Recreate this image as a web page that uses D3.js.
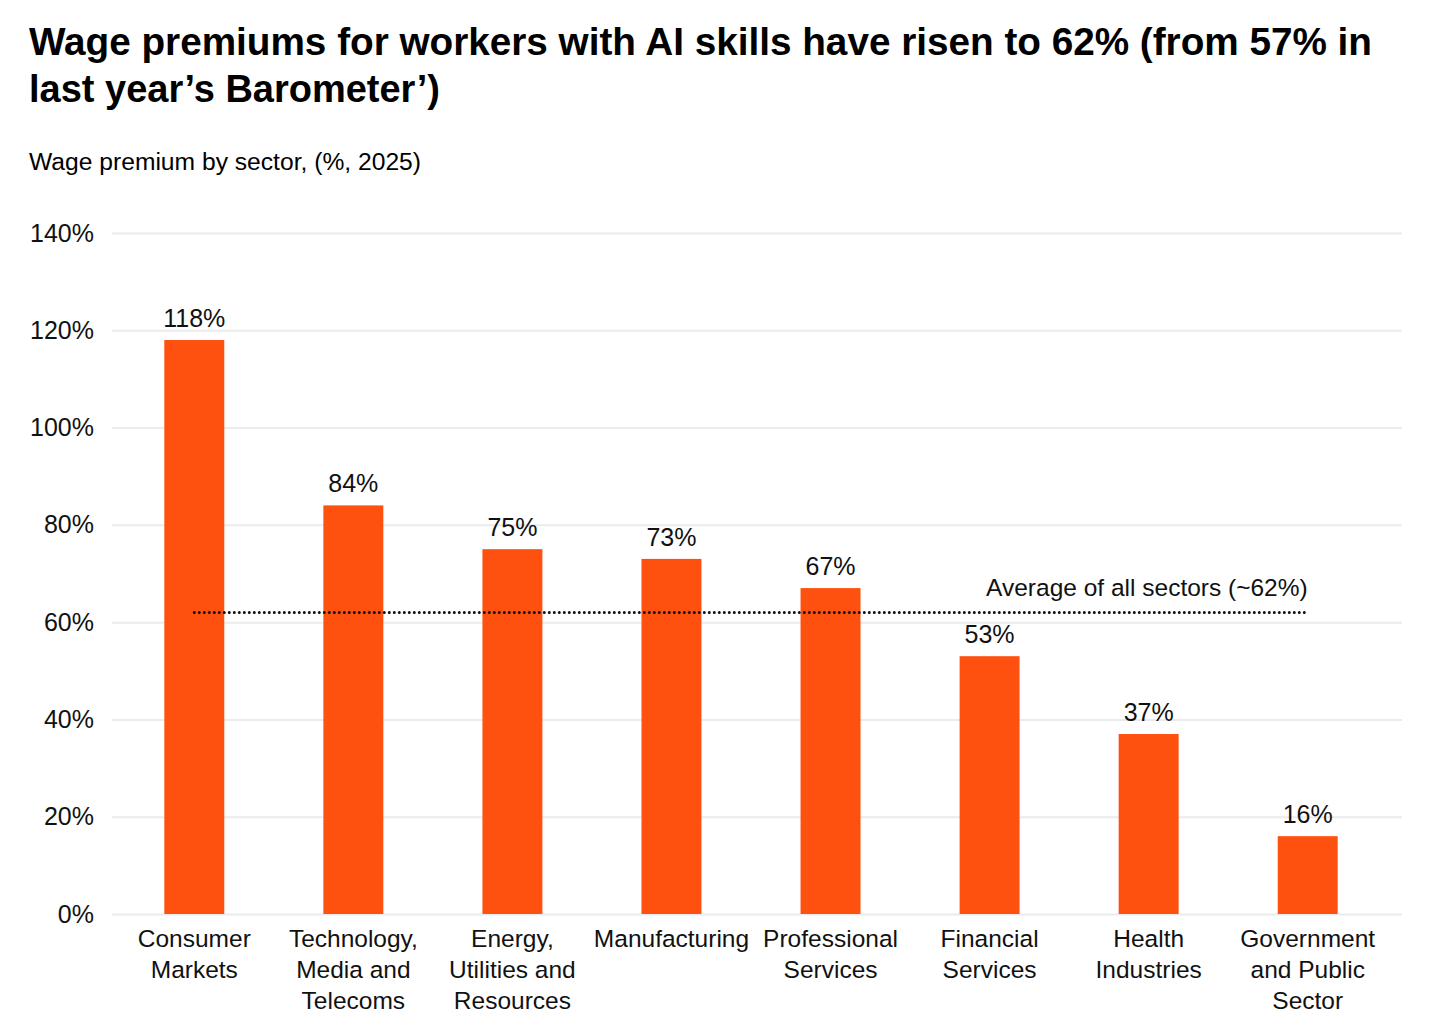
<!DOCTYPE html>
<html>
<head>
<meta charset="utf-8">
<script src="https://cdn.jsdelivr.net/npm/d3@7"></script>
<style>
  body { margin: 0; background: #fff; }
  svg { font-family: "Liberation Sans", Arial, Helvetica, sans-serif; }
</style>
</head>
<body>
<svg width="1444" height="1036"></svg>
<script>
const sectors = [
  ["Consumer", "Markets"],
  ["Technology,", "Media and", "Telecoms"],
  ["Energy,", "Utilities and", "Resources"],
  ["Manufacturing"],
  ["Professional", "Services"],
  ["Financial", "Services"],
  ["Health", "Industries"],
  ["Government", "and Public", "Sector"]
];
const premiums = [118, 84, 75, 73, 67, 53, 37, 16];
const yTicks = [0, 20, 40, 60, 80, 100, 120, 140];
const average = 62;
const averageLabel = "Average of all sectors (~62%)";

const svg = d3.select("svg");
const width = +svg.attr("width");
const height = +svg.attr("height");

const margin = { top: 233, right: 42, bottom: 122, left: 112 };
const innerWidth = width - margin.left - margin.right;
const innerHeight = height - margin.top - margin.bottom;

// title
const titleG = svg.append("g").attr("font-weight", "bold").attr("font-size", 38).attr("fill", "#000");
titleG.append("text").attr("x", 29).attr("y", 55)
  .attr("textLength", 1343).attr("lengthAdjust", "spacingAndGlyphs")
  .text("Wage premiums for workers with AI skills have risen to 62% (from 57% in");
titleG.append("text").attr("x", 29).attr("y", 102)
  .attr("textLength", 411).attr("lengthAdjust", "spacingAndGlyphs")
  .text("last year\u2019s Barometer\u2019)");

svg.append("text").attr("x", 29).attr("y", 170).attr("font-size", 23.5)
  .attr("textLength", 392).attr("lengthAdjust", "spacingAndGlyphs")
  .text("Wage premium by sector, (%, 2025)");

const g = svg.append("g").attr("transform", `translate(${margin.left},${margin.top})`);

const xScale = d3.scaleBand()
  .domain(d3.range(sectors.length))
  .range([3, 3 + 159 * 8])
  .paddingInner(0.623)
  .paddingOuter(0.31);

const yScale = d3.scaleLinear().domain([0, 140]).range([innerHeight, 0]);

// y axis + grid
const yAxis = d3.axisLeft(yScale).tickValues(yTicks).tickFormat(d => d + "%")
  .tickSize(-(innerWidth)).tickPadding(18);
const yAxisG = g.append("g").call(yAxis);
yAxisG.select(".domain").remove();
yAxisG.selectAll(".tick line").attr("stroke", "#ebebeb").attr("stroke-width", 2);
yAxisG.selectAll(".tick text").attr("font-size", 25).attr("fill", "#111")
  .attr("font-family", "Liberation Sans, Arial, sans-serif");

// bars
g.selectAll("rect.bar")
  .data(premiums)
  .enter()
  .append("rect")
  .attr("class", "bar")
  .attr("x", (d, i) => xScale(i))
  .attr("width", xScale.bandwidth())
  .attr("y", d => yScale(d))
  .attr("height", d => innerHeight - yScale(d))
  .attr("fill", "#fe5110");

// value labels
g.selectAll("text.val")
  .data(premiums)
  .enter()
  .append("text")
  .attr("class", "val")
  .attr("x", (d, i) => xScale(i) + xScale.bandwidth() / 2)
  .attr("y", d => yScale(d) - 13)
  .attr("text-anchor", "middle")
  .attr("font-size", 25)
  .attr("fill", "#111")
  .text(d => d + "%");

// average dotted line
const x0 = xScale(0) + xScale.bandwidth() / 2;
const x1 = xScale(sectors.length - 1) + xScale.bandwidth() / 2;
g.append("line")
  .attr("x1", x0).attr("x2", x1)
  .attr("y1", yScale(average)).attr("y2", yScale(average))
  .attr("stroke", "#111")
  .attr("stroke-width", 3)
  .attr("stroke-linecap", "round")
  .attr("stroke-dasharray", "0 5");

g.append("text")
  .attr("x", x1).attr("y", yScale(average) - 16)
  .attr("text-anchor", "end")
  .attr("font-size", 24.5)
  .attr("fill", "#111")
  .text(averageLabel);

// x labels
const xl = g.selectAll("text.xl")
  .data(sectors)
  .enter()
  .append("text")
  .attr("class", "xl")
  .attr("text-anchor", "middle")
  .attr("font-size", 24.5)
  .attr("fill", "#111")
  .attr("transform", (d, i) => `translate(${xScale(i) + xScale.bandwidth() / 2},${innerHeight + 33})`);
xl.selectAll("tspan")
  .data(d => d)
  .enter()
  .append("tspan")
  .attr("x", 0)
  .attr("y", (d, i) => i * 31)
  .text(d => d);
</script>
</body>
</html>
